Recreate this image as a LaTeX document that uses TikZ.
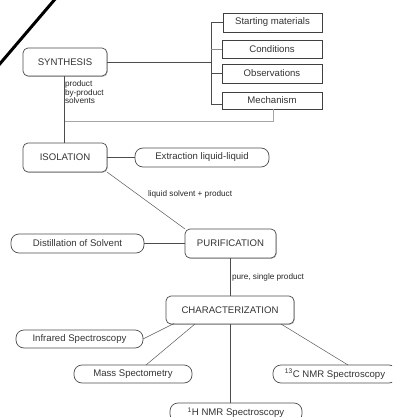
\documentclass[tikz,border=0pt]{standalone}
\usepackage{fontspec}
\setmainfont{Liberation Sans}
\usetikzlibrary{shadows}
\begin{document}
\begin{tikzpicture}[x=1pt,y=-1pt,
  every node/.style={inner sep=0pt, outer sep=0pt},
  mainbox/.style={draw=black!70, line width=0.7pt, rounded corners=5pt, font=\fontsize{9.6}{11}\selectfont, text=black!80, fill=white, drop shadow={shadow xshift=0.8pt, shadow yshift=-0.8pt, fill=black!40, opacity=0.6}},
  sqbox/.style={draw=black!75, line width=0.9pt, font=\fontsize{9.6}{11}\selectfont, text=black!80, fill=white, drop shadow={shadow xshift=0.8pt, shadow yshift=-0.8pt, fill=black!50, opacity=0.7}},
  pill/.style={draw=black!70, line width=0.7pt, rounded corners=8pt, font=\fontsize{9.6}{11}\selectfont, text=black!80},
  conn/.style={draw=black!70, line width=0.8pt},
  thin/.style={draw=black!65, line width=0.5pt},
  lbl/.style={font=\fontsize{8.2}{9.6}\selectfont, text=black!85, align=left}]
\useasboundingbox (0,0) rectangle (392,417);
\clip (0,0) rectangle (392,417);
% diagonal stroke
\coordinate (d1) at (-2,66);
\coordinate (d2) at (56,-2);
\draw[line width=3pt, black] (d1) -- (d2);
% bracket and connectors first (behind nodes)
\coordinate (brt) at (211,22.5);
\coordinate (brm) at (61.5,61.5);
\coordinate (brb) at (211,104);
\coordinate (mr) at (273,121);
% main nodes
\node[mainbox, minimum width=84pt, minimum height=28pt] (syn) at (65,62) {SYNTHESIS};
\node[mainbox, minimum width=84pt, minimum height=29pt] (iso) at (65,157.5) {ISOLATION};
\node[mainbox, minimum width=91pt, minimum height=29pt] (pur) at (230.5,243.5) {PURIFICATION};
\node[mainbox, minimum width=128pt, minimum height=28pt] (char) at (230,310) {CHARACTERIZATION};
% square boxes
\node[sqbox, minimum width=99pt, minimum height=19pt] (sm) at (272.5,22.5) {Starting materials};
\node[sqbox, minimum width=100pt, minimum height=18pt] (cond) at (272,49) {Conditions};
\node[sqbox, minimum width=100pt, minimum height=19pt] (obs) at (272,73.5) {Observations};
\node[sqbox, minimum width=100pt, minimum height=17pt] (mech) at (272,100.5) {Mechanism};
% pills
\node[pill, minimum width=134pt, minimum height=19pt] (ext) at (202,157.5) {Extraction liquid-liquid};
\node[pill, minimum width=133pt, minimum height=19pt] (dist) at (77.5,243.5) {Distillation of Solvent};
\node[pill, minimum width=127pt, minimum height=18pt] (ir) at (79.5,339) {Infrared Spectroscopy};
\node[pill, minimum width=118pt, minimum height=18pt] (ms) at (133,374) {Mass Spectometry};
\node[pill, minimum width=124pt, minimum height=18pt] (c13) at (335,374) {\textsuperscript{13}C NMR Spectroscopy};
\node[pill, minimum width=132pt, minimum height=19pt] (h1) at (236,412.5) {\textsuperscript{1}H NMR Spectroscopy};
% bracket
\draw[conn] (syn.east) -- (brt |- syn.east);
\draw[conn] (sm.west) -- (brt) -- (brb) -- (mech.west |- brb);
\draw[thin, draw=black!45] (cond.west) -- (brt |- cond.west);
\draw[conn] (obs.west) -- (brt |- obs.west);
% mechanism return
\draw[draw=black!35, line width=0.8pt] (mech.south -| mr) -- (mr) -- (64,121);
% vertical synthesis-isolation
\draw[conn] (syn.south -| 64,0) -- (iso.north -| 64,0);
\node[lbl, anchor=north west] (lab1) at (65,81) {product\\[-1.5pt]by-product\\[-1.5pt]solvents};
\draw[conn] (iso.east) -- (ext.west);
\draw[thin] (iso.south east) -- (pur.north west);
\node[lbl, anchor=west] (lab2) at (148,194) {liquid solvent + product};
\draw[conn] (dist.east) -- (pur.west);
\draw[conn] (pur.south -| 230,0) -- (char.north -| 230,0);
\node[lbl, anchor=west] (lab3) at (232,277) {pure, single product};
% characterization branches
\coordinate (ca) at (174,323.5);
\coordinate (cb) at (195,324);
\coordinate (cc) at (281,324);
\draw[thin] (ca) -- (ir.east);
\draw[thin] (cb) -- (ms.north -| 146,0);
\draw[thin] (cc) -- (c13.north -| 348,0);
\draw[conn] (char.south -| 230,0) -- (h1.north -| 230,0);
\end{tikzpicture}
\end{document}
